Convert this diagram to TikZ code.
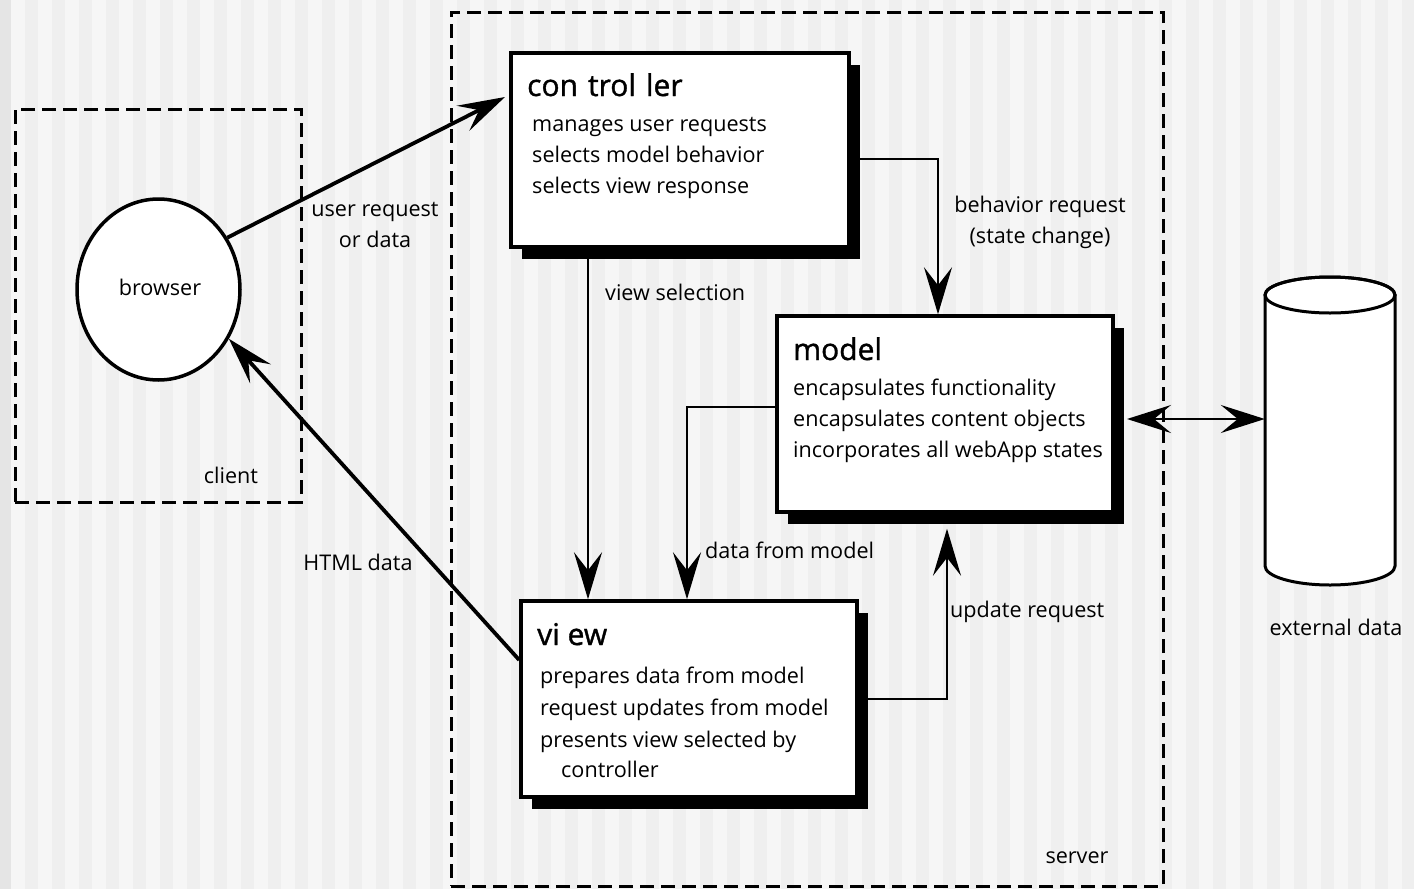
\documentclass[tikz,border=0pt]{standalone}
\usepackage{fontspec}
\setmainfont{Open Sans}
\newfontfamily\titlefont[FakeBold=1.2]{Open Sans}
\usetikzlibrary{arrows.meta,shapes.geometric,shadows}

\definecolor{stripeA}{HTML}{F6F6F6}
\definecolor{stripeB}{HTML}{EFEFEF}
\definecolor{edgeband}{HTML}{E5E5E5}

\tikzset{
  zone/.style={draw=black, line width=3pt, dash pattern=on 14pt off 7pt, inner sep=0pt},
  comp/.style={draw=black, fill=white, line width=3.5pt, inner sep=0pt,
               drop shadow={shadow xshift=11pt, shadow yshift=-12pt, fill=black, opacity=1}},
  tip/.style={-{Stealth[length=47pt,width=28pt,inset=18pt]}},
  flow/.style={tip, line width=2.5pt},
  diag/.style={tip, line width=3.8pt},
  txt/.style={font=\fontsize{21.6}{25}\selectfont, inner sep=0pt},
  ttl/.style={font=\titlefont\fontsize{30}{34}\selectfont, inner sep=0pt},
}

\begin{document}
\begin{tikzpicture}[x=1pt,y=-1pt]
\useasboundingbox (0,0) rectangle (1414,889);

% striped backdrop
\fill[stripeB] (0,0) rectangle (1414,889);
\foreach \i in {0,...,52} {
  \fill[stripeA] ({11+27*\i},0) rectangle ({24.5+27*\i},889);
}
\fill[edgeband] (0,0) rectangle (11,889);

% client and server zones
\node[zone, minimum width=286pt, minimum height=393pt] (client) at (158,305.5) {};
\node[zone, minimum width=712pt, minimum height=874pt] (server) at (807,449) {};
\node[txt] (clientlbl) at (231,475) {client};
\node[txt] (serverlbl) at (1077,858) {server};

% browser
\node[ellipse, draw=black, fill=white, line width=3.5pt, minimum width=163pt, minimum height=181pt] (browser) at (158.5,289.5) {};
\node[txt] (browserlbl) at (160,287) {browser};

% controller, model and view boxes
\node[comp, minimum width=338pt, minimum height=194pt] (ctrl) at (680,150) {};
\node[comp, minimum width=336pt, minimum height=196pt] (model) at (945,414) {};
\node[comp, minimum width=336pt, minimum height=196pt] (view) at (689,699) {};

\node[ttl, anchor=base west] (ctrlttl) at (527,96) {con\,\,trol\,\,ler};
\foreach \t [count=\k] in {manages user requests, selects model behavior, selects view response}
  \node[txt, anchor=base west] (ctrl-\k) at (532,{100+31*\k}) {\t};

\node[ttl, anchor=base west] (modelttl) at (793,360) {model};
\foreach \t [count=\k] in {encapsulates functionality, encapsulates content objects, incorporates all webApp states}
  \node[txt, anchor=base west] (model-\k) at (793,{364+31*\k}) {\t};

\node[ttl, anchor=base west] (viewttl) at (537,645) {vi ew};
\foreach \t [count=\k] in {prepares data from model, request updates from model, presents view selected by}
  \node[txt, anchor=base west] (view-\k) at (540,{651+32*\k}) {\t};
\node[txt, anchor=base west] (view-4) at (561,777) {controller};

% external data store
\draw[line width=3pt, fill=white] (1265,295) -- (1265,566)
  arc[start angle=180, end angle=360, x radius=65pt, y radius=19pt]
  -- (1395,295)
  arc[start angle=0, end angle=180, x radius=65pt, y radius=18pt] -- cycle;
\draw[line width=3pt] (1330,295) ellipse[x radius=65pt, y radius=18pt];
\node[minimum width=130pt, minimum height=308pt, inner sep=0pt] (ext) at (1330,431) {};
\node[txt] (extlbl) at (1336,627) {external data};

% connectors
\coordinate (reqend) at (505,97);
\draw[diag] (browser.37) -- (reqend);
\node[txt, align=center] (reqlbl) at (375,225) {user request\\[6pt]or data};

\draw[diag] (view.west |- 0,660) -- (browser.-35);
\node[txt] (htmllbl) at (358,562) {HTML data};

\coordinate (vs) at (588,0);
\draw[flow] (ctrl.south -| vs) -- (view.north -| vs);
\node[txt, anchor=west] (vslbl) at (605,292) {view selection};

\coordinate (br) at (938,159);
\draw[flow] (ctrl.east |- br) -| (model.north -| br);
\node[txt, align=center] (brlbl) at (1040,222) {behavior request\\[6pt](state change)};

\coordinate (dm) at (687,407);
\draw[flow] (model.west |- dm) -| (view.north -| dm);
\node[txt, anchor=west] (dmlbl) at (705,550) {data from model};

\coordinate (ur) at (947,699);
\draw[flow] (view.east |- ur) -| ([yshift=-15pt]model.south -| ur);
\node[txt, anchor=west] (urlbl) at (950,612) {update request};

\coordinate (xa) at (1127,419);
\draw[{Stealth[length=44pt,width=28pt,inset=17pt]}-{Stealth[length=44pt,width=28pt,inset=17pt]}, line width=2.5pt] (xa) -- (ext.west |- xa);
\end{tikzpicture}
\end{document}
